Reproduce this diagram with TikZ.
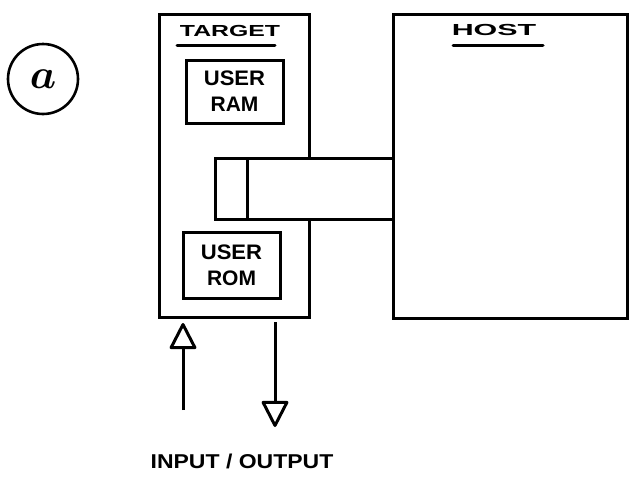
\documentclass[tikz,border=0pt]{standalone}
\usepackage{fontspec}
\usepackage{graphicx}
\usepackage{amsmath}
\setmainfont{Liberation Sans}
\usetikzlibrary{arrows.meta}
\begin{document}
\begin{tikzpicture}[x=1pt,y=-1pt,
  box/.style={draw, line width=3.4pt, inner sep=0pt},
  inbox/.style={draw, line width=3pt, inner sep=0pt, align=center,
    font=\bfseries\fontsize{21}{26}\selectfont},
  title/.style={inner sep=0pt, font=\bfseries\fontsize{16}{16}\selectfont},
  rule/.style={line width=3pt, line cap=round},
  io/.style={line width=3pt, line join=round,
    -{Triangle[open, length=28pt, width=28pt, round]}},
  lbl/.style={inner sep=0pt, font=\bfseries\fontsize{20}{20}\selectfont}
]
\useasboundingbox (0,0) rectangle (629,482);

% sub-figure marker
\node[draw, circle, line width=2.6pt, minimum size=70pt, inner sep=0pt] (mark) at (43,79)
  {\scalebox{2.9}{\Large\boldmath$a$}};

% target board
\node[box, anchor=north west, minimum width=150pt, minimum height=303pt] (target) at (158,13) {};
\node[title] (ttl) at (230,31) {\scalebox{1.55}[1]{TARGET}};
\draw[rule] (177,45) -- (275,45);

\node[inbox, minimum width=97pt, minimum height=63pt] (ram) at (234.5,91.5)
  {\scalebox{1.05}[1]{USER}\\\scalebox{1.0}[1]{RAM}};
\node[inbox, minimum width=97pt, minimum height=66pt] (rom) at (231.5,265)
  {\scalebox{1.05}[1]{USER}\\\scalebox{1.0}[1]{ROM}};

% host computer
\node[box, anchor=north west, minimum width=234pt, minimum height=304pt] (host) at (392,13) {};
\node[title] (htl) at (494,30) {\scalebox{1.9}[1]{HOST}};
\draw[rule] (453,45) -- (543,45);

% emulator cable between host and target
\node[box, fill=white, anchor=north west, minimum width=178pt, minimum height=61pt] (cable) at (214,157) {};
\draw[line width=3pt] ([xshift=33pt]cable.north west) -- ([xshift=33pt]cable.south west);

% input / output lines
\coordinate (inS) at (183,410);
\coordinate (inE) at (183,323);
\coordinate (outS) at (275,322);
\coordinate (outE) at (275,427);
\draw[io] (inS) -- (inE);
\draw[io] (outS) -- (outE);

\node[lbl] (iol) at (242,461) {\scalebox{1.15}[1]{INPUT / OUTPUT}};
\end{tikzpicture}
\end{document}
